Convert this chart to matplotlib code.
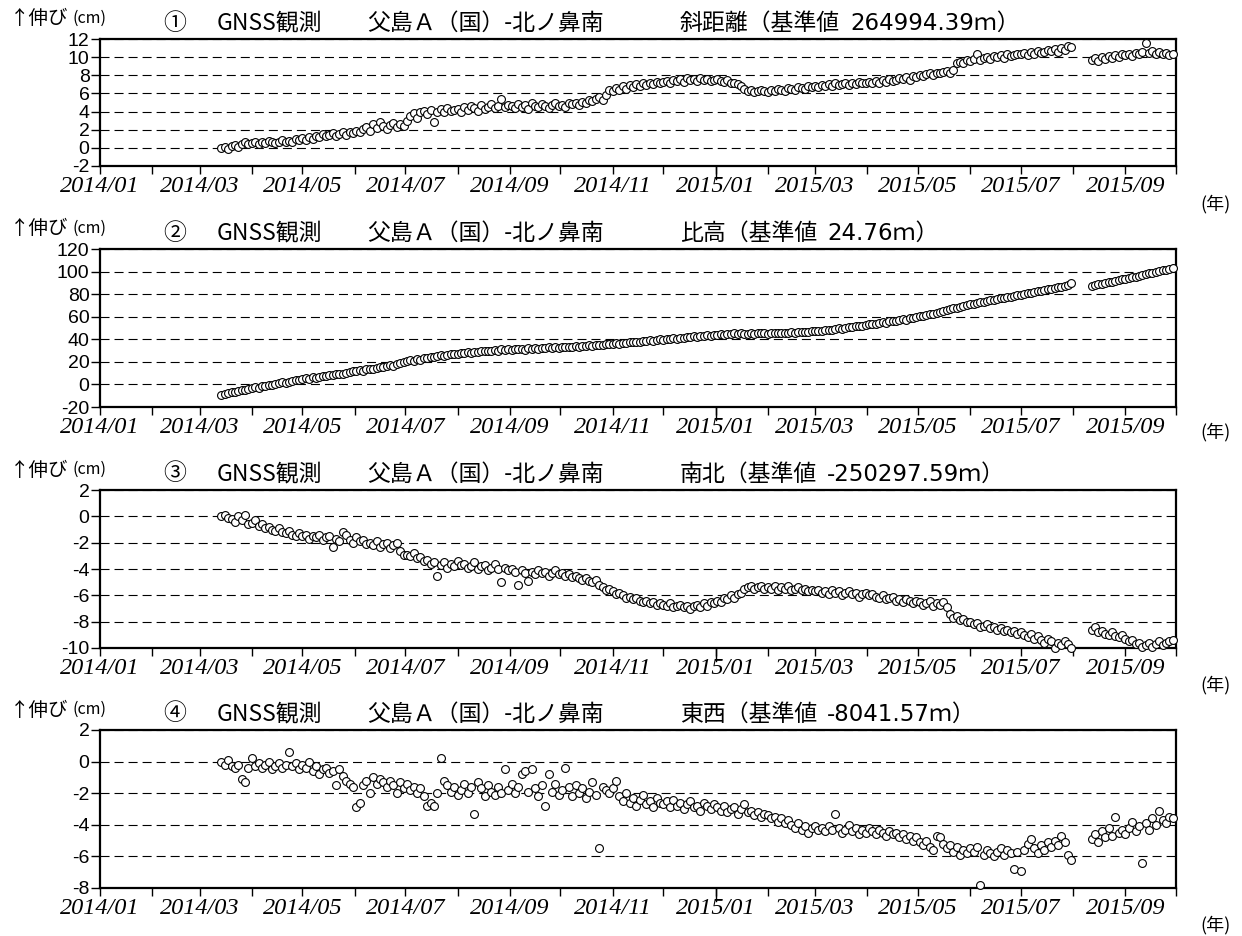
import matplotlib
matplotlib.use("Agg")
import matplotlib.pyplot as plt
import matplotlib.dates as mdates
import pandas as pd

plt.rcParams['lines.scale_dashes'] = False
CJK = ['Noto Sans CJK JP', 'DejaVu Sans']
NUM = ['DejaVu Sans', 'Noto Sans CJK JP']

# ---------------- data (2-day sampling) ----------------
seg_a_start = '2014-03-14'   # first segment, before the August 2015 gap
seg_b_start = '2015-08-12'   # second segment, after the gap
x_start, x_end = '2014-01-01', '2015-10-01'
year_tick = '2015-01-01'

# panel 1 : slope distance (cm)
p1_a = [0.0, 0.1, -0.1, 0.2, 0.3, 0.1, 0.4, 0.6, 0.4,
        0.5, 0.7, 0.4, 0.6, 0.5, 0.8, 0.6, 0.5, 0.7, 0.9, 0.6, 0.8, 0.7, 1.0, 0.9,
        1.1, 0.9, 1.2, 1.0, 1.3, 1.2, 1.5, 1.3, 1.4, 1.6, 1.3, 1.5, 1.7, 1.4, 1.8, 1.6,
        1.9, 1.7, 2.1, 2.3, 1.9, 2.6, 2.2, 2.8, 2.4, 2.1, 2.5, 2.7, 2.3, 2.6, 2.4,
        3.0, 3.5, 3.8, 3.3, 3.9, 4.1, 3.7, 4.2, 2.8, 4.0, 4.3, 3.9, 4.4, 4.1, 4.2,
        4.3, 4.0, 4.5, 4.2, 4.6, 4.4, 4.1, 4.7, 4.3, 4.5, 4.8, 4.4, 4.6, 5.4, 4.5, 4.7,
        4.6, 4.4, 4.8, 4.5, 4.7, 4.3, 4.9, 4.6, 4.5, 4.8, 4.6, 4.4, 4.7, 4.9, 4.6,
        4.7, 4.5, 4.9, 4.8, 5.0, 4.7, 5.1, 5.0, 5.3, 5.2, 5.4, 5.6, 5.3, 5.8, 6.4,
        6.3, 6.6, 6.4, 6.8, 6.5, 6.9, 6.7, 7.0, 6.8, 7.1, 6.9, 7.2, 7.0, 7.3, 7.2,
        7.3, 7.4, 7.2, 7.5, 7.4, 7.6, 7.3, 7.7, 7.5, 7.6, 7.4, 7.7, 7.5, 7.6, 7.4, 7.5,
        7.6, 7.4, 7.3, 7.5, 7.2, 7.1, 7.0, 6.8, 6.5, 6.3, 6.4, 6.2, 6.3, 6.4, 6.3,
        6.2, 6.4, 6.3, 6.5, 6.4, 6.3, 6.6, 6.5, 6.4, 6.7, 6.6, 6.5, 6.8, 6.7,
        6.8, 6.7, 6.9, 6.8, 7.0, 6.8, 7.1, 6.9, 7.0, 7.2, 6.9, 7.1, 7.0, 7.3, 7.1, 7.2,
        7.3, 7.2, 7.4, 7.1, 7.5, 7.3, 7.6, 7.4, 7.5, 7.7, 7.6, 7.8, 7.5, 7.9, 7.8,
        8.0, 7.9, 8.1, 8.2, 8.0, 8.3, 8.2, 8.4, 8.5, 8.3, 8.6, 9.3, 9.5, 9.4, 9.7,
        9.6, 9.8, 10.4, 9.7, 9.9, 10.0, 9.8, 10.1, 10.0, 10.2, 9.9, 10.3, 10.1, 10.2, 10.4,
        10.3, 10.5, 10.2, 10.6, 10.4, 10.7, 10.5, 10.6, 10.8, 10.7, 10.9, 10.6, 11.0, 10.8, 11.2, 11.1]
p1_b = [9.7, 9.9, 9.6, 10.0, 9.8, 10.1, 9.9, 10.2, 10.0, 10.3,
        10.2, 10.4, 10.1, 10.5, 10.3, 10.6, 11.6, 10.5, 10.7, 10.4, 10.6, 10.3, 10.5, 10.2, 10.3]

# panel 2 : relative height (cm)
p2_a = [-9.5, -8.5, -7.8, -7.0, -6.5, -5.8, -5.0, -4.6, -3.8,
        -3.2, -2.5, -2.8, -1.6, -1.0, -0.4, -0.8, 0.5, 1.0, 1.8, 1.4, 2.5, 3.0, 3.6, 4.2,
        4.8, 5.5, 5.0, 6.3, 6.0, 7.0, 7.5, 7.2, 8.3, 8.0, 9.0, 9.5, 9.2, 10.3, 10.8, 11.5,
        12.0, 12.6, 12.3, 13.5, 14.0, 13.6, 15.0, 15.4, 15.8, 16.5, 17.0, 16.6, 18.0, 18.8, 19.5,
        20.5, 21.3, 21.0, 22.5, 22.0, 23.2, 23.8, 24.5, 24.0, 25.3, 25.8, 25.2, 26.5, 26.8, 27.3,
        27.0, 28.0, 27.6, 28.5, 28.2, 29.0, 28.6, 29.5, 29.2, 30.0, 29.6, 30.3, 30.0, 31.0, 30.5, 31.2,
        30.6, 31.3, 31.0, 31.6, 30.8, 32.0, 31.5, 32.2, 31.8, 32.5, 32.0, 32.8, 32.3, 33.0, 32.6,
        33.2, 32.8, 33.5, 33.0, 33.8, 33.4, 34.2, 33.8, 34.5, 34.0, 34.8, 35.3, 34.9, 35.6, 36.0,
        35.8, 36.4, 36.0, 37.0, 36.6, 37.5, 37.2, 38.0, 37.6, 38.5, 38.2, 39.0, 38.6, 39.4, 40.0,
        39.8, 40.5, 40.2, 41.0, 40.6, 41.5, 41.2, 42.0, 41.6, 42.5, 42.2, 43.0, 42.6, 43.5, 43.2, 44.0,
        43.6, 44.3, 44.0, 44.8, 44.4, 45.2, 44.8, 45.5, 45.0, 44.6, 45.3, 44.9, 45.6, 45.2, 45.8,
        45.0, 45.6, 45.2, 45.9, 45.5, 46.0, 45.6, 46.3, 45.8, 46.5, 46.2, 46.8, 46.5, 47.2,
        47.0, 47.6, 47.3, 48.0, 48.5, 48.2, 49.0, 49.6, 49.3, 50.2, 50.8, 50.5, 51.5, 52.0, 51.8, 52.8,
        53.2, 53.8, 53.5, 54.5, 55.0, 54.7, 55.8, 56.3, 56.0, 57.2, 57.6, 57.3, 58.5, 59.0, 59.6,
        60.2, 60.8, 61.5, 62.0, 62.8, 63.5, 64.2, 65.0, 65.8, 66.5, 67.3, 68.0, 68.8, 69.5, 70.3,
        71.0, 71.5, 72.2, 72.8, 73.2, 73.9, 74.5, 75.0, 75.6, 76.2, 76.8, 77.3, 77.9, 78.5, 79.0,
        79.6, 80.2, 80.8, 81.3, 81.8, 82.4, 83.0, 83.5, 84.2, 84.8, 85.3, 86.0, 86.5, 87.2, 87.8, 89.5]
p2_b = [87.5, 88.0, 88.6, 89.2, 89.8, 90.5, 91.0, 91.7, 92.3, 93.0,
        93.6, 94.3, 95.0, 95.6, 96.3, 97.0, 97.6, 98.3, 99.0, 99.6, 100.3, 101.0, 101.5, 102.2, 102.8]

# panel 3 : north-south (cm)
p3_a = [0.0, 0.1, -0.1, -0.2, -0.4, 0.0, -0.3, 0.1, -0.6,
        -0.5, -0.3, -0.7, -0.6, -0.9, -0.8, -1.0, -1.1, -0.9, -1.2, -1.3, -1.1, -1.4, -1.5, -1.3,
        -1.5, -1.4, -1.7, -1.5, -1.6, -1.4, -1.8, -1.6, -1.5, -2.3, -1.7, -1.9, -1.2, -1.4, -1.8, -2.0,
        -1.6, -1.9, -1.8, -2.1, -2.0, -2.2, -1.9, -2.3, -2.1, -2.0, -2.4, -2.2, -2.0, -2.6, -2.9,
        -2.9, -3.0, -2.8, -3.2, -3.1, -3.4, -3.3, -3.6, -3.5, -4.5, -3.7, -3.5, -3.9, -3.6, -3.8,
        -3.4, -3.7, -3.6, -3.9, -3.8, -3.5, -4.0, -3.8, -3.7, -4.1, -3.9, -3.6, -4.0, -5.0, -3.9, -4.1,
        -4.0, -4.2, -5.2, -4.1, -4.3, -4.9, -4.2, -4.4, -4.1, -4.3, -4.2, -4.5, -4.3, -4.1, -4.4,
        -4.3, -4.5, -4.4, -4.6, -4.5, -4.7, -4.8, -4.7, -4.9, -5.0, -4.8, -5.2, -5.4, -5.6, -5.5,
        -5.7, -5.9, -5.8, -6.0, -6.2, -6.1, -6.3, -6.2, -6.4, -6.5, -6.4, -6.6, -6.5, -6.7, -6.6,
        -6.7, -6.8, -6.6, -6.9, -6.8, -6.7, -6.9, -6.8, -7.0, -6.8, -6.7, -6.9, -6.6, -6.8, -6.5, -6.6,
        -6.4, -6.5, -6.2, -6.3, -6.0, -6.2, -5.9, -5.8, -5.5, -5.4, -5.3, -5.5, -5.4, -5.3, -5.5,
        -5.4, -5.5, -5.3, -5.6, -5.4, -5.5, -5.3, -5.6, -5.5, -5.4, -5.6, -5.5, -5.7, -5.6,
        -5.7, -5.6, -5.8, -5.7, -5.9, -5.6, -5.8, -5.7, -6.0, -5.8, -5.7, -5.9, -5.8, -6.1, -5.9, -5.8,
        -6.0, -5.9, -6.1, -6.2, -6.0, -6.3, -6.2, -6.1, -6.4, -6.3, -6.5, -6.3, -6.4, -6.6, -6.4,
        -6.5, -6.7, -6.6, -6.4, -6.8, -6.6, -6.7, -6.5, -6.9, -7.4, -7.7, -7.6, -7.9, -7.8, -8.0,
        -8.0, -8.2, -8.1, -8.4, -8.3, -8.2, -8.5, -8.4, -8.6, -8.5, -8.7, -8.6, -8.8, -8.7, -8.9,
        -8.8, -9.0, -9.2, -8.9, -9.3, -9.1, -9.4, -9.6, -9.3, -9.5, -10.0, -9.6, -9.8, -9.5, -9.7, -10.0]
p3_b = [-8.6, -8.4, -8.8, -8.7, -8.9, -9.0, -8.8, -9.1, -9.2, -9.0,
        -9.3, -9.5, -9.4, -9.7, -9.6, -9.9, -9.8, -9.6, -9.9, -9.7, -9.5, -9.8, -9.6, -9.5, -9.4]

# panel 4 : east-west (cm)
p4_a = [0.0, -0.2, 0.1, -0.3, -0.4, -0.2, -1.1, -1.3, -0.4,
        0.2, -0.3, -0.1, -0.4, -0.2, 0.0, -0.5, -0.3, -0.1, -0.4, -0.2, 0.6, -0.3, -0.1, -0.5,
        -0.2, -0.4, 0.0, -0.6, -0.3, -0.8, -0.5, -0.4, -0.7, -0.6, -1.5, -0.5, -0.9, -1.2, -1.4, -1.6,
        -2.9, -2.6, -1.5, -1.2, -2.0, -1.0, -1.4, -1.1, -1.3, -1.6, -1.2, -1.5, -2.0, -1.3, -1.7,
        -1.4, -1.8, -1.6, -2.0, -1.7, -2.2, -2.8, -2.6, -2.8, -2.0, 0.2, -1.2, -1.5, -1.9, -1.6,
        -2.1, -1.8, -1.4, -2.0, -1.6, -3.3, -1.3, -1.7, -2.2, -1.5, -1.9, -2.1, -1.6, -2.0, -0.5, -1.8,
        -1.4, -2.0, -1.6, -0.8, -0.6, -1.9, -0.5, -1.7, -2.2, -1.5, -2.8, -0.8, -1.9, -1.4, -2.1,
        -1.8, -0.4, -1.6, -2.2, -1.5, -2.0, -1.7, -2.3, -1.9, -1.3, -2.1, -5.5, -1.6, -1.8, -2.0,
        -1.7, -1.2, -2.2, -2.5, -2.0, -2.6, -2.3, -2.8, -2.4, -2.1, -2.7, -2.5, -2.9, -2.3, -2.6,
        -2.7, -2.5, -2.9, -2.4, -2.8, -2.6, -3.0, -2.7, -2.5, -2.9, -2.8, -3.1, -2.6, -2.8, -3.0, -2.7,
        -2.9, -3.1, -2.8, -3.2, -3.0, -2.9, -3.3, -3.0, -2.7, -3.2, -3.1, -3.4, -3.2, -3.5, -3.3,
        -3.4, -3.6, -3.5, -3.8, -3.6, -3.9, -3.7, -4.0, -4.2, -3.9, -4.3, -4.1, -4.5, -4.2,
        -4.1, -4.3, -4.2, -4.4, -4.1, -4.3, -3.3, -4.2, -4.5, -4.3, -4.0, -4.4, -4.2, -4.6, -4.3, -4.5,
        -4.2, -4.4, -4.6, -4.3, -4.5, -4.7, -4.4, -4.6, -4.5, -4.8, -4.6, -4.9, -4.7, -5.0, -4.8,
        -5.1, -5.3, -5.0, -5.4, -5.6, -4.7, -4.8, -5.2, -5.5, -5.3, -5.7, -5.4, -5.9, -5.6, -5.8,
        -5.5, -5.7, -5.4, -7.8, -5.9, -5.6, -5.8, -6.0, -5.7, -5.5, -5.9, -5.6, -5.8, -6.8, -5.7,
        -6.9, -5.6, -5.2, -4.9, -5.5, -5.8, -5.3, -5.6, -5.1, -5.4, -5.0, -5.3, -4.7, -5.1, -5.9, -6.2]
p4_b = [-4.9, -4.6, -5.1, -4.4, -4.8, -4.2, -4.7, -3.5, -4.5, -4.3,
        -4.6, -4.2, -3.8, -4.4, -4.1, -6.4, -3.9, -4.3, -3.6, -4.0, -3.1, -3.7, -3.9, -3.5, -3.6]

series_a = [p1_a, p2_a, p3_a, p4_a]
series_b = [p1_b, p2_b, p3_b, p4_b]
marks = ['①', '②', '③', '④']
components = ['斜距離', '比高', '南北', '東西']
base_values = ['264994.39', '24.76', '-250297.59', '-8041.57']
yticks = [list(range(-2, 13, 2)), list(range(-20, 121, 20)),
          list(range(-10, 3, 2)), list(range(-8, 3, 2))]
station = '父島Ａ（国）-北ノ鼻南'
method = 'GNSS観測'
ylabel_main = '↑伸び'
ylabel_unit = '(cm)'
xunit = '(年)'

# ---------------- layout (pixels) ----------------
W, H = 1242, 936
fig = plt.figure(figsize=(W / 100, H / 100), dpi=100)
fig.patch.set_facecolor('white')
boxes = [(39, 166), (249, 407), (490, 648), (730, 888)]
unit_y = [204, 432, 685, 925]
L, R = 100, 1176
TS = 16.5   # title font size

renderer = fig.canvas.get_renderer()

for i in range(4):
    top, bot = boxes[i]
    ax = fig.add_axes([L / W, 1 - bot / H, (R - L) / W, (bot - top) / H])
    da = pd.date_range(seg_a_start, periods=len(series_a[i]), freq='2D')
    db = pd.date_range(seg_b_start, periods=len(series_b[i]), freq='2D')
    for d, v in ((da, series_a[i]), (db, series_b[i])):
        ax.scatter(d, v, s=32, facecolors='white', edgecolors='black',
                   linewidths=0.8, zorder=3, clip_on=False)
    ax.set_xlim(pd.Timestamp(x_start), pd.Timestamp(x_end))
    yt = yticks[i]
    ax.set_ylim(yt[0], yt[-1])
    ax.set_yticks(yt)
    ax.set_yticklabels([str(v) for v in yt], fontfamily='Liberation Sans', fontsize=14)
    ax.xaxis.set_major_locator(mdates.MonthLocator(bymonth=[1, 3, 5, 7, 9, 11]))
    ax.xaxis.set_minor_locator(mdates.MonthLocator())
    ax.xaxis.set_major_formatter(mdates.DateFormatter('%Y/%m'))
    ax.tick_params(axis='x', which='both', direction='out', length=5.5, width=1.0, pad=2.0)
    ax.tick_params(axis='y', direction='out', length=6.5, width=1.0, pad=1)
    for lab in ax.get_xticklabels():
        lab.set_fontfamily('Liberation Serif')
        lab.set_fontstyle('italic')
        lab.set_fontsize(17.5)
    ax.grid(axis='y', color='black', linewidth=0.8, linestyle=(0, (6.5, 3.6)))
    ax.set_axisbelow(True)
    for sp in ax.spines.values():
        sp.set_linewidth(1.6)
    # longer tick at the year boundary
    frac = 13.0 / (bot - top)
    yb = pd.Timestamp(year_tick)
    ax.plot([yb, yb], [0, -frac], transform=ax.get_xaxis_transform(),
            color='black', lw=1.0, clip_on=False)

    # titles
    yc = 1 - (top - 16) / H
    yl = fig.text(10 / W, 1 - (top - 20) / H, ylabel_main, fontsize=14, family=CJK, va='center')
    bb = yl.get_window_extent(renderer)
    fig.text((bb.x1 + 4) / W, 1 - (top - 21) / H, ylabel_unit, fontsize=11.5, family=CJK, va='center')
    fig.text(163 / W, yc, marks[i], fontsize=TS, family=CJK, va='center')
    fig.text(217 / W, yc, method, fontsize=TS, family=CJK, va='center')
    fig.text(367 / W, yc, station, fontsize=TS, family=CJK, va='center')
    t = fig.text(680 / W, yc, components[i] + '（基準値', fontsize=TS, family=CJK, va='center')
    bb = t.get_window_extent(renderer)
    fig.text((bb.x1 + 10) / W, yc, base_values[i] + 'ｍ）', fontsize=TS, family=NUM, va='center')
    fig.text(1216 / W, 1 - unit_y[i] / H, xunit, fontsize=13, family=CJK,
             ha='center', va='center')

fig.savefig('out.png', dpi=100)
